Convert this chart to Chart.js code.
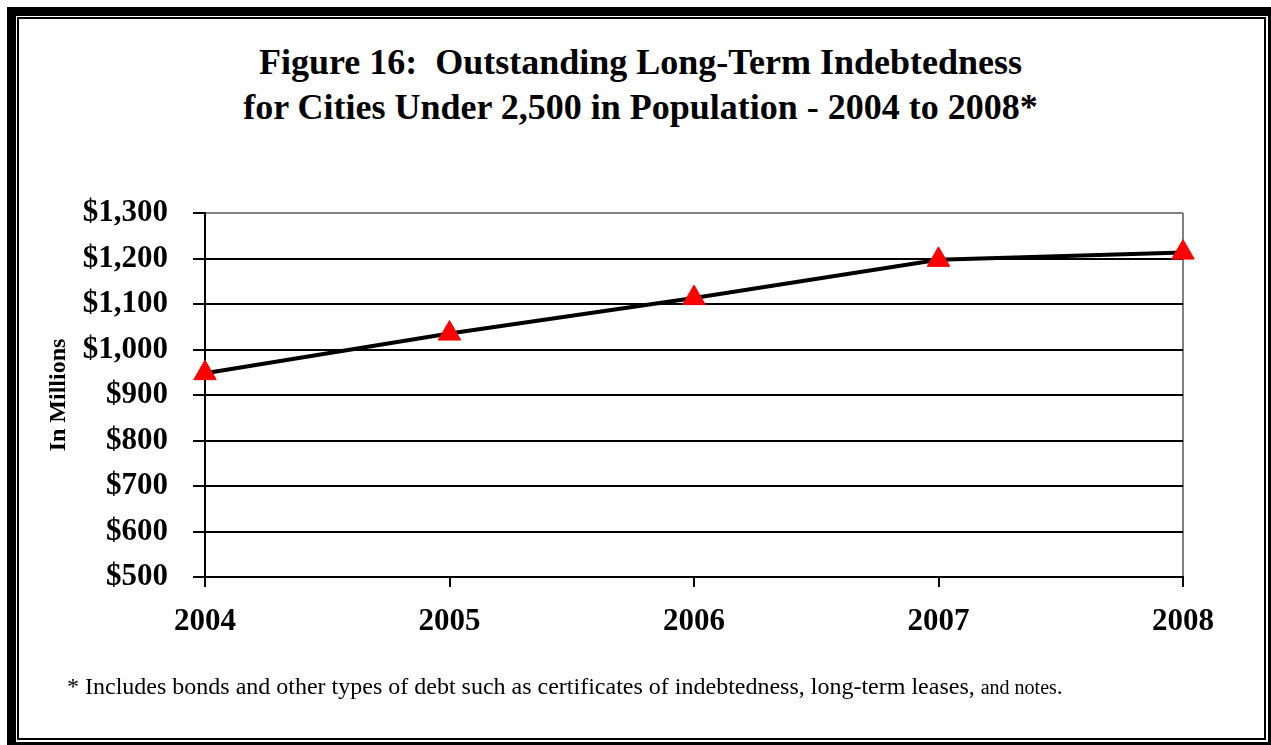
<!DOCTYPE html>
<html>
<head>
<meta charset="utf-8">
<script src="https://cdn.jsdelivr.net/npm/chart.js@4.4.1/dist/chart.umd.min.js"></script>
<style>
    html, body { margin: 0; padding: 0; background: #fff; overflow: hidden; }
    body { width: 1271px; height: 745px; position: relative; }
    .frame-outer { position: absolute; left: 7px; top: 7px; width: 1270px; height: 744px; border: 9px solid #000; box-sizing: border-box; }
    .frame-inner { position: absolute; left: 17px; top: 17px; width: 1249px; height: 723px; border: 2px solid #000; box-sizing: border-box; }
    .title { position: absolute; left: 0; top: 40px; width: 1281px; text-align: center; font: bold 36px "Liberation Serif", "Times New Roman", serif; line-height: 45px; color: #000; }
    .note { position: absolute; left: 67px; top: 673px; font: 24px "Liberation Serif", "Times New Roman", serif; color: #000; white-space: nowrap; }
    .note small { font-size: 20px; }
    #chart { position: absolute; left: 0; top: 0; }
</style>
</head>
<body>
<div class="frame-outer"></div>
<div class="frame-inner"></div>
<div class="title">Figure 16:&nbsp; Outstanding Long-Term Indebtedness<br>for Cities Under 2,500 in Population - 2004 to 2008*</div>
<canvas id="chart" width="1271" height="745"></canvas>
<div class="note">* Includes bonds and other types of debt such as certificates of indebtedness, long-term leases, <small>and notes</small>.</div>
<script>
// data (millions of dollars)
const years = ['2004', '2005', '2006', '2007', '2008'];
const debtValues = [948, 1035, 1113, 1197, 1213];
const yMin = 500;
const yMax = 1300;
const yStep = 100;

const serif = '"Liberation Serif", "Times New Roman", serif';

const ctx = document.getElementById('chart').getContext('2d');
new Chart(ctx, {
    type: 'line',
    data: {
        labels: years,
        datasets: [{
            data: debtValues,
            borderColor: '#000',
            borderWidth: 4,
            tension: 0,
            clip: false,
            pointStyle: 'triangle',
            pointRadius: 13,
            pointHoverRadius: 13,
            pointBackgroundColor: '#ff0000',
            pointBorderColor: '#ff0000',
            pointBorderWidth: 1
        }]
    },
    options: {
        responsive: false,
        animation: false,
        events: [],
        layout: { padding: { left: 0, right: 88, top: 213, bottom: 98 } },
        plugins: {
            legend: { display: false },
            tooltip: { enabled: false }
        },
        scales: {
            x: {
                offset: false,
                grid: {
                    color: c => c.index === years.length - 1 ? '#808080' : 'rgba(0,0,0,0)',
                    tickColor: '#000',
                    lineWidth: 2,
                    tickLength: 10
                },
                border: { color: '#000', width: 2 },
                ticks: {
                    color: '#000',
                    padding: 16,
                    maxRotation: 0,
                    font: { family: serif, size: 31, weight: 'bold' }
                },
                afterFit: s => { s.height = 70; }
            },
            y: {
                min: yMin,
                max: yMax,
                grid: {
                    color: c => c.tick && c.tick.value === yMax ? '#808080' : '#000',
                    tickColor: '#000',
                    lineWidth: 2,
                    tickLength: 12
                },
                border: { color: '#000', width: 2 },
                ticks: {
                    stepSize: yStep,
                    color: '#000',
                    padding: 25,
                    font: { family: serif, size: 31, weight: 'bold' },
                    callback: v => '$' + v.toLocaleString('en-US')
                },
                title: {
                    display: true,
                    text: 'In Millions',
                    color: '#000',
                    padding: { top: 44, bottom: 0 },
                    font: { family: serif, size: 24, weight: 'bold' }
                },
                afterFit: s => { s.width = 205; }
            }
        }
    }
});
</script>
</body>
</html>
